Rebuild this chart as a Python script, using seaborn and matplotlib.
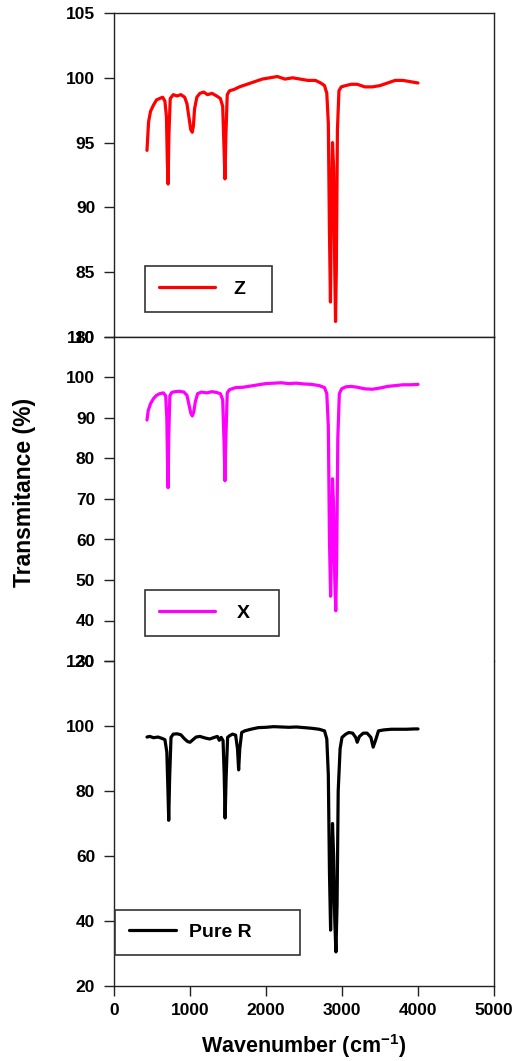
import matplotlib
matplotlib.use("Agg")
import matplotlib.pyplot as plt
import seaborn as sns
import pandas as pd

sns.set_style("ticks")
plt.rcParams['font.family'] = ['Liberation Sans', 'DejaVu Sans']
plt.rcParams['font.weight'] = 'bold'
plt.rcParams['axes.labelweight'] = 'bold'
plt.rcParams['text.color'] = 'black'
plt.rcParams['axes.labelcolor'] = 'black'
plt.rcParams['mathtext.fontset'] = 'custom'
plt.rcParams['mathtext.rm'] = 'Liberation Sans:bold'
plt.rcParams['mathtext.default'] = 'rm'

# ---- data (wavenumber cm-1, transmittance %) ----
wn_z = [434, 455, 480, 520, 560, 600, 640, 670, 690, 702, 712, 722, 740, 780, 830, 880, 930,
        960, 990, 1010, 1030, 1045, 1060, 1090, 1130, 1180, 1230, 1290, 1350, 1400, 1430, 1448,
        1460, 1472, 1490, 1520, 1580, 1650, 1750, 1850, 1950, 2050, 2150, 2250, 2350, 2450,
        2550, 2650, 2720, 2770, 2800, 2820, 2835, 2848, 2860, 2875, 2890, 2905, 2915, 2925,
        2940, 2960, 2990, 3050, 3120, 3200, 3300, 3400, 3500, 3600, 3700, 3800, 3900, 4000]
t_z = [94.4, 96.6, 97.4, 97.9, 98.3, 98.4, 98.5, 98.2, 97.0, 93.5, 91.8, 95.5, 98.4, 98.7, 98.6,
       98.7, 98.5, 98.0, 96.8, 96.0, 95.8, 96.3, 97.6, 98.5, 98.8, 98.9, 98.7, 98.8, 98.6, 98.4,
       97.8, 94.5, 92.2, 95.5, 98.7, 99.0, 99.1, 99.3, 99.5, 99.7, 99.9, 100.0, 100.1, 99.9,
       100.0, 99.9, 99.8, 99.8, 99.6, 99.4, 98.8, 96.5, 88.0, 82.7, 90.0, 95.0, 93.0, 85.0,
       81.2, 85.0, 96.0, 99.0, 99.3, 99.4, 99.5, 99.5, 99.3, 99.3, 99.4, 99.6, 99.8, 99.8,
       99.7, 99.6]

wn_x = [434, 450, 480, 520, 560, 600, 650, 680, 695, 705, 712, 720, 735, 760, 800, 860, 920,
        960, 990, 1010, 1030, 1050, 1070, 1100, 1150, 1220, 1290, 1350, 1400, 1430, 1448, 1460,
        1472, 1490, 1520, 1600, 1700, 1800, 1900, 2000, 2100, 2200, 2300, 2400, 2500, 2600,
        2700, 2770, 2800, 2820, 2835, 2850, 2862, 2875, 2890, 2905, 2918, 2930, 2945, 2965,
        2995, 3050, 3120, 3200, 3300, 3400, 3500, 3600, 3700, 3800, 3900, 4000]
t_x = [89.5, 91.8, 93.5, 94.8, 95.6, 96.0, 96.2, 95.5, 90.0, 78.0, 72.8, 85.0, 95.5, 96.3, 96.5,
       96.6, 96.4, 95.6, 93.0, 91.2, 90.5, 91.5, 94.0, 96.0, 96.4, 96.2, 96.5, 96.3, 96.0, 94.5,
       84.0, 74.5, 85.0, 96.2, 97.0, 97.5, 97.6, 97.9, 98.2, 98.5, 98.6, 98.7, 98.5, 98.6, 98.4,
       98.3, 98.0, 97.5, 96.0, 88.0, 60.0, 46.0, 58.0, 75.0, 68.0, 50.0, 42.4, 55.0, 85.0,
       96.0, 97.2, 97.7, 97.8, 97.6, 97.2, 97.1, 97.4, 97.8, 98.0, 98.2, 98.2, 98.3]

wn_r = [434, 470, 520, 580, 630, 670, 695, 710, 720, 732, 750, 780, 830, 880, 930, 970, 1000,
        1040, 1080, 1130, 1200, 1260, 1320, 1360, 1385, 1410, 1435, 1450, 1462, 1475, 1495,
        1520, 1560, 1600, 1625, 1640, 1655, 1680, 1720, 1800, 1900, 2000, 2100, 2200, 2300,
        2400, 2500, 2600, 2700, 2770, 2800, 2820, 2835, 2850, 2862, 2875, 2890, 2905, 2920,
        2935, 2950, 2975, 3000, 3050, 3090, 3140, 3180, 3200, 3230, 3280, 3330, 3380, 3410,
        3440, 3480, 3550, 3650, 3750, 3850, 3950, 4000]
t_r = [96.6, 96.8, 96.4, 96.6, 96.2, 95.8, 92.0, 80.0, 71.0, 84.0, 96.5, 97.5, 97.6, 97.3, 96.0,
       95.2, 95.0, 95.8, 96.6, 96.8, 96.3, 96.0, 96.5, 96.8, 95.6, 96.5, 95.5, 85.0, 71.7,
       84.0, 96.5, 97.0, 97.5, 97.2, 93.0, 86.5, 93.0, 98.0, 98.5, 99.0, 99.5, 99.6, 99.8,
       99.7, 99.6, 99.7, 99.5, 99.3, 99.0, 98.5, 96.0, 85.0, 55.0, 37.2, 50.0, 70.0, 60.0,
       40.0, 30.5, 45.0, 80.0, 93.0, 96.5, 97.5, 98.0, 97.8, 96.5, 95.0, 96.8, 97.8, 97.8,
       96.5, 93.5, 95.5, 98.5, 98.8, 99.0, 99.0, 99.0, 99.1, 99.1]

panels = [
    ("Z", wn_z, t_z, "#ff0000", (80, 105), list(range(80, 106, 5))),
    ("X", wn_x, t_x, "#ff00ff", (30, 110), list(range(30, 111, 10))),
    ("Pure R", wn_r, t_r, "#000000", (20, 120), list(range(20, 121, 20))),
]

fig = plt.figure(figsize=(5.15, 10.61), dpi=100)
W, H = 515, 1061
left, right = 114, 494
edges = [(13, 337), (337, 661), (661, 986)]
# legend boxes in axes fraction: x0, y0, width, handlelength, handletextpad
leg_pos = [(0.0816, 0.077, 0.334, 2.9, 0.95),
           (0.0816, 0.077, 0.353, 2.9, 1.1),
           (0.0026, 0.095, 0.487, 2.4, 0.7)]
spine_c = "#222222"

for i, (name, wn, tr, col, ylim, yt) in enumerate(panels):
    top, bot = edges[i]
    ax = fig.add_axes([left / W, 1 - bot / H, (right - left) / W, (bot - top) / H])
    df = pd.DataFrame({"wavenumber": wn, "T": tr})
    sns.lineplot(data=df, x="wavenumber", y="T", ax=ax, color=col, linewidth=2.3,
                 sort=False, estimator=None, label=name)
    ax.set_xlim(0, 5000)
    ax.set_ylim(*ylim)
    ax.set_yticks(yt)
    ax.set_xlabel("")
    ax.set_ylabel("")
    for s in ax.spines.values():
        s.set_color(spine_c)
        s.set_linewidth(1.0)
    ax.tick_params(axis="y", direction="out", length=7.5, width=1.0, color=spine_c,
                   labelcolor="black", labelsize=12.5, pad=6)
    if i < 2:
        ax.tick_params(axis="x", bottom=False, labelbottom=False)
    if i == 1:
        ax.spines["bottom"].set_visible(False)
    if i == 2:
        ax.spines["top"].set_visible(False)
        ax.set_xticks([0, 1000, 2000, 3000, 4000, 5000])
        ax.tick_params(axis="x", direction="out", length=7.5, width=1.0, color=spine_c,
                       labelcolor="black", labelsize=12.5, pad=5)
        ax.set_xlabel("Wavenumber (cm$^{-1}$)", fontsize=15.5, fontweight="bold", labelpad=10)
    x0, y0, w, hl, tp = leg_pos[i]
    leg = ax.legend(loc="lower left", bbox_to_anchor=(x0, y0, w, 0.15), mode="expand",
                    fancybox=False, edgecolor="#333333", framealpha=1, fontsize=14,
                    handlelength=hl, handletextpad=tp, borderpad=0.72, borderaxespad=0)
    leg.get_frame().set_linewidth(1.2)
    for t in leg.get_texts():
        t.set_color("black")

fig.text(25 / W, 1 - 492 / H, "Transmitance (%)", rotation=90, ha="center", va="center",
         fontsize=16.5, fontweight="bold", color="black")

fig.savefig("out.png", dpi=100)
